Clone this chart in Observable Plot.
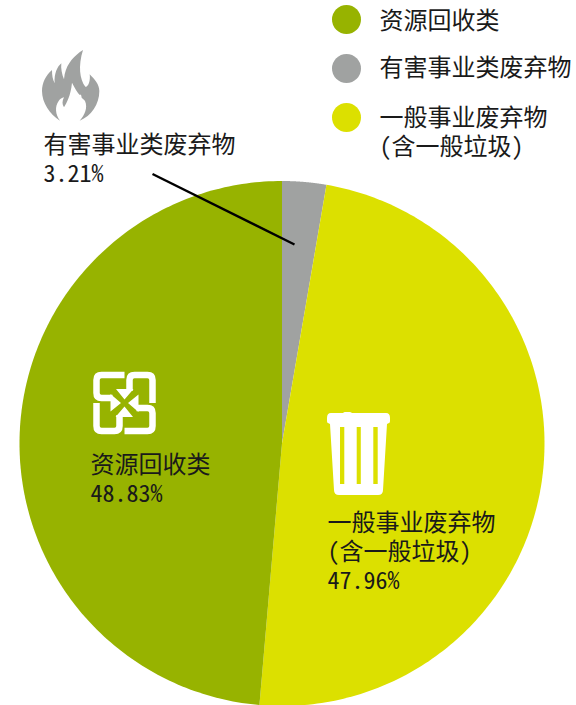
<!DOCTYPE html>
<html><head><meta charset="utf-8">
<script src="https://cdn.jsdelivr.net/npm/d3@7"></script>
<script src="https://cdn.jsdelivr.net/npm/@observablehq/plot@0.6"></script>
<style>html,body{margin:0;padding:0;background:#fff;overflow:hidden}svg{display:block}
.hw text{font-feature-settings:"hwid" 1}</style>
</head><body><div id="chart"></div>
<script>
// slice order, clockwise from 12 o'clock
const categories = ["有害事业类废弃物", "一般事业废弃物", "资源回收类"];
// printed percentages
const printed = ["3.21%", "47.96%", "48.83%"];
const drawnShares = [2.71, 48.66, 48.63];
const colors = ["#a0a2a1", "#dce000", "#97b300"];
const legendOrder = ["资源回收类", "有害事业类废弃物", "一般事业废弃物"];

const W = 576, H = 705, R = 262.5, CX = 281.5, CY = 443;
const ux = px => (px - CX) / R, uy = py => (CY - py) / R;

// slices as polygons in radius units
let cum = 0;
const slices = [];
drawnShares.forEach((v, i) => {
  const a0 = cum / 100 * 2 * Math.PI, a1 = (cum + v) / 100 * 2 * Math.PI;
  const n = 180;
  slices.push({cat: categories[i], x: 0, y: 0});
  for (let k = 0; k <= n; k++) {
    const a = a0 + (a1 - a0) * k / n;
    slices.push({cat: categories[i], x: Math.sin(a), y: Math.cos(a)});
  }
  slices.push({cat: categories[i], x: 0, y: 0});
  cum += v;
});

const cjk = '"Noto Sans CJK SC"';
const labels = [
  {t: "有害事业类废弃物", x: 43, y: 145},
  {t: "资源回收类", x: 90, y: 465},
  {t: "一般事业废弃物", x: 327, y: 523},
  {t: "(含一般垃圾)", x: 327, y: 552},
  {t: "资源回收类", x: 379, y: 21},
  {t: "有害事业类废弃物", x: 379, y: 68},
  {t: "一般事业废弃物", x: 379, y: 118},
  {t: "(含一般垃圾)", x: 379, y: 147}
].map(d => ({...d, x: ux(d.x), y: uy(d.y)}));
const pcts = [
  {t: printed[0], x: 43, y: 174},
  {t: printed[2], x: 90, y: 494},
  {t: printed[1], x: 327, y: 581}
].map(d => ({...d, x: ux(d.x), y: uy(d.y)}));
const legendDots = legendOrder.map((c, i) => ({cat: c, x: ux(346), y: uy([19, 68, 117][i])}));
const leader = [{x1: ux(152), y1: uy(173.5), x2: ux(294), y2: uy(244)}];

const NS = "http://www.w3.org/2000/svg";
function icon(parts, px, py, scale) {
  return (index, scales) => {
    const g = document.createElementNS(NS, "g");
    g.setAttribute("transform", `translate(${scales.x(ux(px))},${scales.y(uy(py))}) scale(${scale})`);
    for (const attrs of parts) {
      const p = document.createElementNS(NS, "path");
      for (const k in attrs) p.setAttribute(k, attrs[k]);
      g.appendChild(p);
    }
    return g;
  };
}
const flame = "M135 12C110 28 88 50 80 85L78 100C72 85 68 68 70 52C58 62 48 82 50 112C44 100 42 88 42 72C24 88 12 110 12 135C12 170 35 205 66 224C52 205 50 182 62 165C66 158 72 156 78 154C72 166 72 176 78 184C86 170 98 150 102 110C110 125 118 140 126 148C128 142 130 146 131 155C134 158 138 160 141 165C150 185 140 208 125 224C160 210 184 175 184 135C184 115 170 100 155 85C158 105 150 125 142 122C125 100 120 60 135 12Z";
const bin = "M18 0H22.5Q24 0 25 1H59Q63 1 63 6V9Q63 11 62 11L60 12L56 78Q56 83 51 83H12Q7 83 7 78L3 12L1 11Q0 11 0 9V6Q0 1 4 1H16Q17 0 18 0Z M13 15V72H17.3V15Z M29.7 15V72H33.8V15Z M46.3 15V72H50.7V15Z";
const rot = ([x, y], k) => { for (let i = 0; i < k; i++) [x, y] = [-y, x]; return [x, y]; };
let stems = "", heads = "";
for (let k = 0; k < 4; k++) {
  const P = p => rot(p, k).join(" ");
  stems += `M${P([0, -28])}L${P([-23, -28])}Q${P([-28, -28])} ${P([-28, -23])}L${P([-28, -10])}Q${P([-28, -5])} ${P([-23, -5])}L${P([-12, -5])}`;
  heads += "M" + [[-3.5, 0], [-14, -9], [-14, 8.5]].map(P).join("L") + "Z";
}

const plot = Plot.plot({
  width: W, height: H, margin: 0,
  x: {domain: [ux(0), ux(W)], range: [0, W], axis: null},
  y: {domain: [uy(H), uy(0)], range: [H, 0], axis: null},
  color: {domain: categories, range: colors},
  style: {background: "#fff"},
  marks: [
    Plot.line(slices, {x: "x", y: "y", z: "cat", fill: "cat", stroke: null, curve: "linear"}),
    Plot.dot(legendDots, {x: "x", y: "y", r: 14.5, fill: "cat", stroke: null}),
    Plot.link(leader, {x1: "x1", y1: "y1", x2: "x2", y2: "y2", stroke: "#000", strokeWidth: 2.4}),
    icon([{d: flame, fill: "#a0a2a1"}], 38, 46, 1 / 3),
    icon([{d: bin, fill: "#fff", "fill-rule": "evenodd"}], 327, 412, 1),
    icon([
      {d: stems, fill: "none", stroke: "#fff", "stroke-width": 6.5},
      {d: heads, fill: "#fff"}
    ], 124.5, 403, 1),
    Plot.text(labels, {x: "x", y: "y", text: "t", textAnchor: "start", fill: "#1a1a1a", fontSize: 24, fontFamily: cjk, className: "hw"}),
    Plot.text(pcts, {x: "x", y: "y", text: "t", textAnchor: "start", fill: "#1a1a1a", fontSize: 24, fontFamily: cjk, className: "hw"})
  ]
});
document.getElementById("chart").appendChild(plot);
</script></body></html>
